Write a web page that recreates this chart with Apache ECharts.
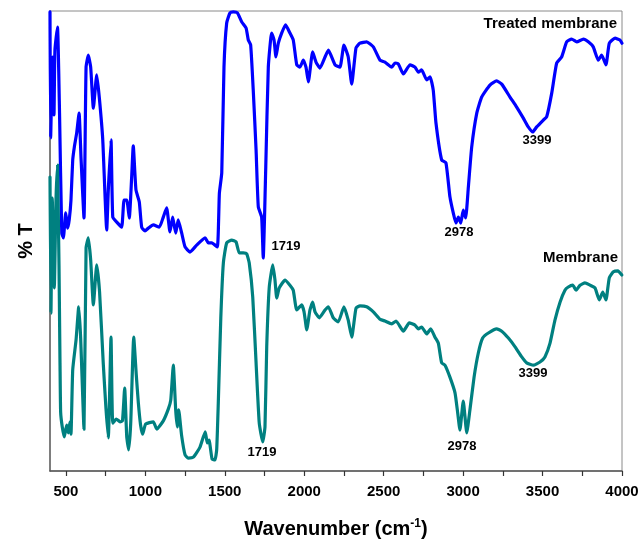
<!DOCTYPE html>
<html>
<head>
<meta charset="utf-8">
<script src="https://cdn.jsdelivr.net/npm/echarts@6/dist/echarts.min.js"></script>
<style>html,body{margin:0;padding:0;background:#fff}#c{width:644px;height:546px}</style>
</head>
<body>
<div id="c"></div>
<script>
// ---- data ----
var treatedWn = [400,404,416,425,431,447,460,474,484,499,511,521,532,543,553,568,583,595,614,627,641,656,673,694,710,732,757,767,784,795,820,851,866,883,899,914,924,941,962,977,998,1019,1050,1088,1113,1134,1155,1172,1191,1207,1229,1250,1281,1323,1376,1396,1418,1453,1466,1481,1495,1512,1533,1554,1579,1607,1634,1648,1663,1680,1697,1711,1732,1742,1758,1774,1795,1810,1822,1837,1858,1883,1910,1931,1953,1973,1994,2011,2026,2053,2074,2099,2131,2152,2194,2225,2250,2277,2299,2326,2351,2393,2435,2477,2508,2551,2571,2592,2624,2666,2697,2718,2739,2771,2792,2812,2829,2865,2892,2917,2938,2955,2970,2985,3001,3016,3033,3054,3086,3117,3169,3211,3243,3295,3337,3379,3410,3438,3463,3505,3526,3558,3589,3620,3652,3683,3715,3757,3788,3819,3851,3872,3899,3920,3956,3987,4000];
var treatedT = [99.8,72.4,90.0,77.4,91.5,96.5,77.8,51.7,50.7,56.1,52.8,54.6,58.9,67.6,70.4,73.5,77.8,68.3,55.0,87.8,90.4,87.8,78.9,86.1,81.3,72.0,52.4,61.1,72.0,55.2,54.1,53.0,58.9,58.9,55.0,63.9,70.7,61.1,58.5,53.0,52.2,52.8,53.5,53.0,55.2,57.2,52.0,55.2,51.7,54.6,51.7,48.7,47.6,49.1,50.7,49.6,49.6,48.7,60.4,64.8,87.8,97.4,99.6,99.8,99.6,97.6,96.3,93.7,92.6,82.2,69.8,57.4,55.2,46.3,66.1,87.8,95.2,93.7,90.0,93.0,95.2,97.0,95.2,93.7,88.3,87.8,89.3,87.8,84.6,91.1,88.9,87.6,90.0,91.5,88.3,87.8,92.6,90.0,84.1,92.0,93.0,93.3,92.2,89.3,88.9,87.8,88.7,88.5,86.3,88.3,87.8,86.7,87.2,85.0,85.7,82.8,75.7,67.6,67.0,59.6,56.1,53.9,55.2,53.9,56.7,55.0,61.7,70.4,77.8,81.3,83.9,84.8,84.1,81.3,79.1,76.7,74.8,73.7,74.8,76.3,77.0,82.2,88.7,90.0,93.3,93.9,93.3,93.9,93.3,92.2,89.3,90.4,88.3,93.0,94.1,93.7,93.0];

var membraneWn = [400,406,414,427,438,448,463,467,477,490,505,515,526,532,543,564,581,593,614,627,641,656,673,694,712,735,752,767,784,795,817,841,856,870,883,895,908,927,943,956,970,983,1002,1050,1072,1113,1145,1160,1176,1191,1201,1210,1228,1250,1270,1302,1344,1377,1390,1401,1420,1438,1449,1459,1475,1491,1512,1544,1571,1591,1617,1638,1654,1676,1697,1717,1739,1753,1764,1780,1802,1816,1827,1843,1879,1910,1931,1953,1984,1999,2016,2036,2053,2068,2095,2131,2152,2183,2214,2250,2277,2299,2326,2351,2393,2435,2477,2508,2551,2578,2624,2661,2697,2718,2739,2771,2796,2823,2844,2865,2886,2917,2949,2966,2980,3001,3023,3043,3069,3096,3123,3159,3211,3243,3285,3327,3369,3400,3442,3484,3515,3547,3578,3610,3641,3662,3690,3711,3736,3767,3799,3830,3857,3879,3899,3920,3946,3974,3999];
var membraneT = [63.9,34.3,59.3,39.8,59.3,66.5,23.5,12.8,9.6,7.4,10.0,8.3,10.7,8.0,22.0,28.5,35.7,28.9,9.1,48.5,50.7,45.9,36.1,44.8,38.9,23.5,13.7,7.2,29.1,10.4,11.3,10.7,10.9,18.0,7.4,4.6,10.4,29.1,20.9,14.8,10.0,8.0,10.2,10.7,9.1,10.9,13.5,15.4,23.0,13.3,9.6,13.3,7.8,3.5,2.8,3.0,5.2,8.5,6.1,6.7,2.6,2.4,4.6,14.6,33.3,45.2,49.6,50.2,49.8,47.4,47.4,47.2,45.2,37.8,23.5,10.4,6.3,9.6,27.0,40.0,44.8,41.5,37.6,39.8,41.5,40.4,39.3,35.0,36.1,34.6,30.7,35.0,36.7,34.6,33.3,35.0,35.7,33.3,32.4,35.7,32.8,29.1,35.4,35.9,35.7,34.6,33.0,32.6,32.0,32.6,30.4,32.2,31.7,30.9,31.3,29.8,30.9,29.1,27.8,23.5,23.0,20.4,17.0,12.6,8.9,15.2,8.3,13.3,20.4,25.7,28.9,30.0,30.9,30.4,28.9,27.0,24.8,23.5,23.0,23.7,24.8,27.8,32.8,36.7,39.3,40.0,40.4,39.3,40.4,40.9,40.4,39.8,37.2,38.9,37.2,42.0,43.3,43.5,42.6];

var xTickValues = [500,1000,1500,2000,2500,3000,3500,4000];
var xMinorTicks = [500,750,1000,1250,1500,1750,2000,2250,2500,2750,3000,3250,3500,3750,4000];
var seriesNames = ['Treated membrane','Membrane'];
var peakLabels = ['1719','2978','3399'];

function pairs(xs, ys){ var out=[]; for(var i=0;i<xs.length;i++) out.push([xs[i], ys[i]]); return out; }

var FONT = 'Liberation Sans, Arial, sans-serif';
function txt(text, x, y, size, align){
  return { type:'text', x:x, y:y, style:{ text:text, font:'bold '+size+'px '+FONT, fill:'#000', textAlign:align||'center', textVerticalAlign:'middle' } };
}

var chart = echarts.init(document.getElementById('c'), null, {renderer:'canvas'});
chart.setOption({
  animation:false,
  backgroundColor:'#fff',
  grid:{ left:50, right:22, top:11, bottom:75, show:true, borderColor:'#8a8a8a', borderWidth:1, backgroundColor:'transparent' },
  xAxis:{
    type:'value', min:400, max:4000,
    name:'Wavenumber (cm{sup|-1})', nameLocation:'middle', nameGap:47,
    nameTextStyle:{ fontFamily:FONT, fontWeight:'bold', fontSize:20, color:'#000',
      rich:{ sup:{ fontFamily:FONT, fontWeight:'bold', fontSize:12, color:'#000', padding:[0,0,10,0] } } },
    axisLine:{ show:true, lineStyle:{ color:'#555', width:1.5 } },
    axisTick:{ show:true, inside:false, length:5, customValues:xMinorTicks, lineStyle:{ color:'#333', width:1.2 } },
    axisLabel:{ customValues:xTickValues, margin:13, fontFamily:FONT, fontWeight:'bold', fontSize:15, color:'#000',
      formatter:function(v){ return String(v); } },
    splitLine:{ show:false }
  },
  yAxis:{
    type:'value', min:0, max:100,
    name:'% T', nameLocation:'middle', nameGap:14, nameRotate:90,
    nameTextStyle:{ fontFamily:FONT, fontWeight:'bold', fontSize:20, color:'#000' },
    axisLine:{ show:true, lineStyle:{ color:'#666', width:1.5 } },
    axisTick:{ show:false }, axisLabel:{ show:false }, splitLine:{ show:false }
  },
  series:[
    { name:seriesNames[0], type:'line', data:pairs(treatedWn, treatedT), showSymbol:false, symbol:'none', smooth:0.15,
      lineStyle:{ color:'#0000ff', width:3.2, join:'round', cap:'round' }, clip:true },
    { name:seriesNames[1], type:'line', data:pairs(membraneWn, membraneT), showSymbol:false, symbol:'none', smooth:0.15,
      lineStyle:{ color:'#008080', width:3.2, join:'round', cap:'round' }, clip:true }
  ],
  graphic:[
    txt(seriesNames[0], 617, 24, 15, 'right'),
    txt(seriesNames[1], 618, 258, 15, 'right'),
    txt(peakLabels[0], 286, 246, 13),
    txt(peakLabels[0], 262, 452, 13),
    txt(peakLabels[1], 459, 232, 13),
    txt(peakLabels[1], 462, 446, 13),
    txt(peakLabels[2], 537, 140, 13),
    txt(peakLabels[2], 533, 373, 13)
  ]
});
</script>
</body>
</html>
